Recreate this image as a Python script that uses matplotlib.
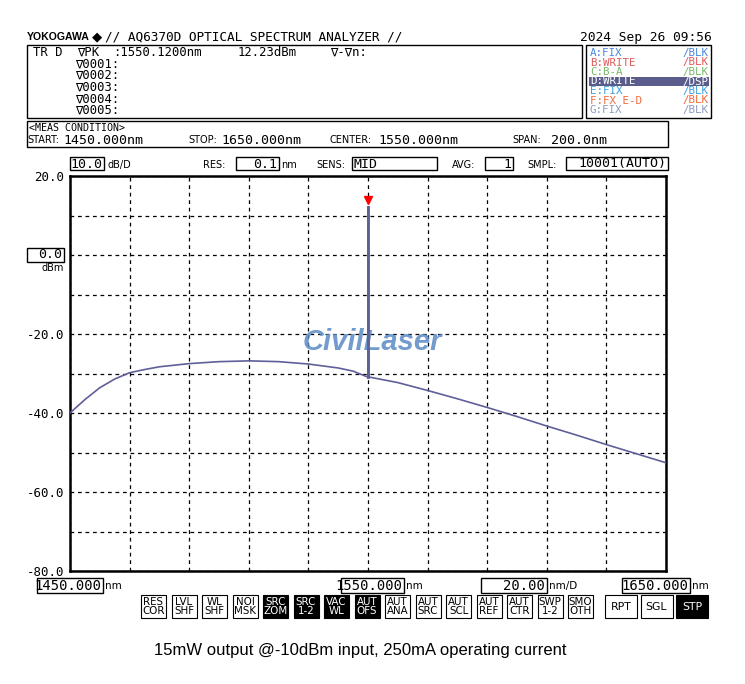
import matplotlib
matplotlib.use("Agg")
import matplotlib.pyplot as plt
from matplotlib.patches import Rectangle

# ---- data ------------------------------------------------------------------
wavelength_nm = [1450, 1455, 1460, 1465, 1470, 1475, 1480, 1490, 1500, 1510,
                 1520, 1530, 1540, 1545, 1549.9, 1550.0, 1550.12, 1550.25,
                 1550.4, 1560, 1570, 1580, 1590, 1600, 1610, 1620, 1630,
                 1640, 1650]
level_dbm = [-40.0, -36.6, -33.6, -31.4, -29.8, -29.0, -28.3, -27.5, -27.0,
             -26.8, -27.0, -27.6, -28.6, -29.4, -30.9, -31.2, 12.23, -30.9,
             -30.9, -32.3, -34.3, -36.4, -38.6, -40.9, -43.3, -45.6, -48.0,
             -50.3, -52.6]
peak_wl = 1550.12
peak_level = 12.23

y_ticks = [20, 10, 0, -10, -20, -30, -40, -50, -60, -70, -80]
y_labels = ["20.0", "", "", "", "-20.0", "", "-40.0", "", "-60.0", "", "-80.0"]
x_ticks = [1450 + 20 * i for i in range(11)]

traces = ["A:FIX", "B:WRITE", "C:B-A", "D:WRITE", "E:FIX", "F:FX E-D", "G:FIX"]
trace_modes = ["/BLK", "/BLK", "/BLK", "/DSP", "/BLK", "/BLK", "/BLK"]
trace_colors = ["#4a86e0", "#e05a5a", "#78b868", "white", "#3aa0e0", "#f06a3a", "#8a9cc0"]

markers = ["\u22070001:", "\u22070002:", "\u22070003:", "\u22070004:", "\u22070005:"]

buttons = [("RES\nCOR", 0), ("LVL\nSHF", 0), ("WL\nSHF", 0), ("NOI\nMSK", 0),
           ("SRC\nZOM", 1), ("SRC\n1-2", 1), ("VAC\nWL", 1), ("AUT\nOFS", 1),
           ("AUT\nANA", 0), ("AUT\nSRC", 0), ("AUT\nSCL", 0), ("AUT\nREF", 0),
           ("AUT\nCTR", 0), ("SWP\n1-2", 0), ("SMO\nOTH", 0)]
big_buttons = [("RPT", 0), ("SGL", 0), ("STP", 1)]

MONO = "DejaVu Sans Mono"
SANS = "DejaVu Sans"

fig = plt.figure(figsize=(7.45, 6.84), dpi=100)

# screen furniture drawn in pixel coordinates
scr = fig.add_axes([0, 0, 1, 1])
scr.set_xlim(0, 745)
scr.set_ylim(684, 0)
scr.axis("off")

def box(x0, y0, x1, y1, fc="none", lw=1.0, ec="black"):
    scr.add_patch(Rectangle((x0, y0), x1 - x0, y1 - y0, fc=fc, ec=ec, lw=lw))

def txt(x, y, s, size=9.5, family=MONO, ha="left", color="black", **kw):
    scr.text(x, y, s, fontsize=size, family=family, ha=ha, va="center", color=color, **kw)

# header
txt(27, 37, "YOKOGAWA", size=7.6, family="Liberation Sans", weight="bold")
txt(92, 37, "\u25c6", size=9.5, family=SANS)
txt(105, 37, "// AQ6370D OPTICAL SPECTRUM ANALYZER //", size=9.2)
txt(712, 37, "2024 Sep 26 09:56", size=9.3, ha="right")

# marker box
box(27, 45, 582, 118)
txt(33, 52.5, "TR D", size=8.8)
txt(77, 52.5, "\u2207PK", size=8.8)
txt(113, 52.5, ":1550.1200nm", size=8.8)
txt(238, 52.5, "12.23dBm", size=8.8)
txt(330, 52.5, "\u2207-\u2207n:", size=8.8)
for i, m in enumerate(markers):
    txt(75, 64 + 11.6 * i, m, size=8.8)

# trace list box
box(586, 45, 711, 118)
for i, (t, md, c) in enumerate(zip(traces, trace_modes, trace_colors)):
    yy = 53 + 9.5 * i
    if md == "/DSP":
        box(589, yy - 4.7, 709, yy + 4.7, fc="#5a5d8c", ec="none")
    txt(590, yy, t, size=7.8, color=c)
    txt(708, yy, md, size=7.8, color=c, ha="right")

# measurement condition box
box(27, 121, 668, 147)
txt(29, 128, "<MEAS CONDITION>", size=7.2)
txt(27, 140, "START:", size=7, family=SANS)
txt(63, 140, "1450.000nm", size=9.5)
txt(188, 140, "STOP:", size=7, family=SANS)
txt(221, 140, "1650.000nm", size=9.5)
txt(330, 140, "CENTER:", size=7, family=SANS)
txt(378, 140, "1550.000nm", size=9.5)
txt(512, 140, "SPAN:", size=7, family=SANS)
txt(551, 140, "200.0nm", size=9.5)

# settings row above the grid
box(70, 157, 104, 170)
txt(102, 164, "10.0", ha="right")
txt(107, 165, "dB/D", size=7, family=SANS)
txt(203, 165, "RES:", size=7, family=SANS)
box(236, 157, 279, 170)
txt(277, 164, "0.1", ha="right")
txt(281, 165, "nm", size=7, family=SANS)
txt(316, 165, "SENS:", size=7, family=SANS)
box(352, 157, 437, 170)
txt(354, 164, "MID")
txt(452, 165, "AVG:", size=7, family=SANS)
box(485, 157, 513, 170)
txt(511, 164, "1", ha="right")
txt(527, 165, "SMPL:", size=7, family=SANS)
box(566, 157, 668, 170)
txt(666, 164, "10001(AUTO)", ha="right")

# reference level box
box(27, 248, 64, 262)
txt(62, 255, "0.0", ha="right")
txt(73, 255, "REF", size=7, family=SANS)
txt(64, 268, "dBm", size=7, family=SANS, ha="right")

# wavelength boxes under the grid
for x0, x1, val, unit in [(37, 103, "1450.000", "nm"), (341, 404, "1550.000", "nm"),
                          (481, 547, "20.00", "nm/D"), (622, 690, "1650.000", "nm")]:
    box(x0, 578, x1, 593)
    txt(x1 - 2, 585.5, val, size=10, ha="right")
    txt(x1 + 2, 586, unit, size=7.5, family=SANS)

# soft keys
for i, (lab, on) in enumerate(buttons):
    x0 = 141 + 30.5 * i
    box(x0, 595, x0 + 25, 618, fc="black" if on else "white", ec="black", lw=0.8)
    scr.text(x0 + 12.5, 606.5, lab, fontsize=7.4, family=SANS, ha="center", va="center",
             color="white" if on else "black", linespacing=0.8)
for i, (lab, on) in enumerate(big_buttons):
    x0 = 605 + 35.5 * i
    box(x0, 595, x0 + 32, 618, fc="black" if on else "white", ec="black", lw=0.8)
    txt(x0 + 16, 606.5, lab, size=7.8, family=SANS, ha="center",
        color="white" if on else "black")

# caption
txt(360, 650, "15mW output @-10dBm input, 250mA operating current", size=12,
    family="Liberation Sans", ha="center")

# ---- spectrum grid ----------------------------------------------------------
ax = fig.add_axes([70 / 745, 1 - 571 / 684, 596 / 745, 395 / 684])
ax.set_xlim(1450, 1650)
ax.set_ylim(-80, 20)
ax.set_xticks(x_ticks)
ax.set_yticks(y_ticks)
ax.set_yticklabels(y_labels, family=MONO, fontsize=9)
ax.set_xticklabels([])
ax.tick_params(length=0, pad=4)
ax.grid(True, color="black", ls=(0, (3, 3)), lw=0.9)
for s in ax.spines.values():
    s.set_linewidth(1.8)

ax.plot(wavelength_nm, level_dbm, color="#5f5f9a", lw=1.2, zorder=3)
ax.plot([peak_wl, peak_wl], [-31, peak_level], color="#5f5f9a", lw=2.0, zorder=3)
ax.plot([peak_wl], [peak_level + 1.6], marker="v", color="red", ms=6, zorder=4)

ax.text(0.507, 0.58, "CivilLaser", transform=ax.transAxes, fontsize=21,
        family="Liberation Sans", weight="bold", style="italic",
        color="#5a8ac6", alpha=0.85, ha="center", va="center", zorder=2)

fig.savefig("out.png", dpi=100)
